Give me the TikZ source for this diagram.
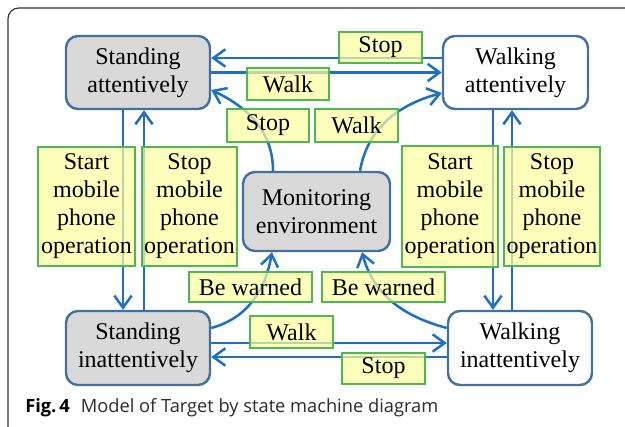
\documentclass[tikz,border=0pt]{standalone}
\usepackage{fontspec}
\setmainfont{Liberation Serif}
\newfontfamily\capfont{Open Sans}
\usetikzlibrary{arrows.meta,calc}
\definecolor{arrowblue}{HTML}{1F70C2}
\definecolor{stateedge}{HTML}{41719C}
\definecolor{stategray}{HTML}{D9D9D9}
\definecolor{notefill}{HTML}{FFFFA0}
\definecolor{noteedge}{HTML}{4DB84D}
\definecolor{framegray}{HTML}{333333}
\definecolor{captext}{HTML}{2B2B2B}
\begin{document}
\begin{tikzpicture}[x=0.75pt,y=-0.75pt,
  sz/.style 2 args={minimum width=#1*0.75pt, minimum height=#2*0.75pt},
  state/.style={draw=stateedge, line width=1.8pt, rounded corners=9pt,
    inner sep=0pt, align=center, font=\fontsize{18}{21}\selectfont},
  busy/.style={state, fill=stategray},
  idle/.style={state, fill=white},
  note/.style={draw=noteedge, line width=1pt, fill=notefill, fill opacity=0.7,
    text opacity=1, inner sep=0pt, align=center, font=\fontsize{18}{21}\selectfont},
  trans/.style={draw=arrowblue, line width=1.9pt,
    -{Straight Barb[length=9pt,width=13pt]}},
]
\useasboundingbox (0,0) rectangle (625,427);

% outer frame (open to the right and bottom)
\draw[framegray, line width=0.9pt, rounded corners=8pt] (8,430) -- (8,8) -- (630,8);

% states
\node[busy, sz={144}{73}] (sa)  at (138,72.5)   {Standing\\attentively};
\node[idle, sz={145}{73}] (wa)  at (515.5,72.5) {Walking\\attentively};
\node[busy, sz={147}{79}] (mon) at (316.5,211.5) {Monitoring\\environment};
\node[busy, sz={144}{74}] (si)  at (138,348)    {Standing\\inattentively};
\node[idle, sz={144}{74}] (wi)  at (520,348)    {Walking\\inattentively};

% transitions
\draw[trans] ($(wa.west)+(0,-14.5)$) -- ($(sa.east)+(0,-14.5)$);
\draw[trans] (sa.east) -- (wa.west);
\draw[trans] ($(mon.north)+(-43.5,0)$) to[out=90,in=-25] ($(sa.east)+(0,17.5)$);
\draw[trans] ($(mon.north)+(43.5,0)$) to[out=80,in=195] ($(wa.west)+(0,20.5)$);
\draw[trans] ($(sa.south)+(-15,0)$) -- ($(si.north)+(-15,0)$);
\draw[trans] ($(si.north)+(6,0)$) -- ($(sa.south)+(6,0)$);
\draw[trans] ($(wa.south)+(-22.5,0)$) -- ($(wi.north)+(-27,0)$);
\draw[trans] ($(wi.north)+(-8,0)$) -- ($(wa.south)+(-3.5,0)$);
\draw[trans] ($(si.east)+(0,-20)$) to[out=15,in=-100] ($(mon.south)+(-44.5,0)$);
\draw[trans] ($(wi.west)+(0,-20)$) to[out=165,in=-75] ($(mon.south)+(45.5,0)$);
\draw[trans] ($(si.east)+(0,-5)$) -- ($(wi.west)+(0,-5)$);
\draw[trans] ($(wi.west)+(0,9)$) -- ($(si.east)+(0,9)$);

% transition labels
\node[note, sz={83}{31}]  (stopT)  at (380.5,47.5)  {Stop};
\node[note, sz={82}{32}]  (walkT)  at (288,84)      {Walk};
\node[note, sz={82}{33}]  (stopM)  at (268,125.5)   {Stop};
\node[note, sz={83}{33}]  (walkM)  at (356.5,125.5) {Walk};
\node[note, sz={97}{119}] (startL) at (86.5,206.5)  {Start\\mobile\\phone\\operation};
\node[note, sz={95}{119}] (stopL)  at (189.5,206.5) {Stop\\mobile\\phone\\operation};
\node[note, sz={96}{121}] (startR) at (450,206.5)   {Start\\mobile\\phone\\operation};
\node[note, sz={96}{119}] (stopR)  at (552,206.5)   {Stop\\mobile\\phone\\operation};
\node[note, sz={123}{30}] (warnL)  at (250.5,287)   {Be warned};
\node[note, sz={123}{30}] (warnR)  at (383.5,287)   {Be warned};
\node[note, sz={83}{32}]  (walkB)  at (291.5,332)   {Walk};
\node[note, sz={83}{31}]  (stopB)  at (383.5,368.5) {Stop};

% caption
\node[anchor=base west, inner sep=0pt, text=captext,
      font=\capfont\fontsize{13.7}{16}\selectfont]
  (cap) at (25,413) {\textcolor{black}{\textbf{Fig.\,4}}\hspace{0.6em}Model of Target by state machine diagram};
\end{tikzpicture}
\end{document}
